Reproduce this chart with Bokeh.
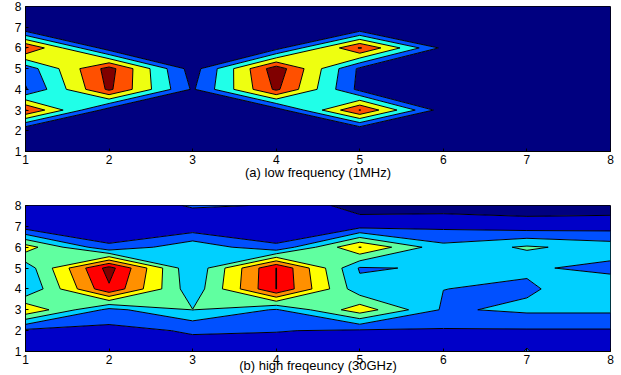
import numpy as np
from bokeh.plotting import figure
from bokeh.models import Range1d, FixedTicker
from bokeh.layouts import column
from bokeh.embed import file_html
from bokeh.resources import INLINE

x_vals = [1, 2, 3, 4, 5, 6, 7, 8]
y_vals = [1, 2, 3, 4, 5, 6, 7, 8]
tick_labels = ["1", "2", "3", "4", "5", "6", "7", "8"]

# panel (a): rows are y = 1..8, columns x = 1..8
za_y1 = [0, 0, 0, 0, 0, 0, 0, 0]
za_y2 = [0, 0, 0, 0, 0, 0, 0, 0]
za_y3 = [5.05, 0.5, 0, 0.5, 5.05, 0.45, 0, 0]
za_y4 = [0.9, 5.2, 0.87, 5.2, 0.7, 0, 0, 0]
za_y5 = [1.4, 5.4, 0.5, 5.6, 0.8, 0, 0, 0]
za_y6 = [5.05, 0.4, 0, 0.6, 5.1, 0.74, 0, 0]
za_y7 = [0, 0, 0, 0, 0, 0, 0, 0]
za_y8 = [0, 0, 0, 0, 0, 0, 0, 0]
levels_a = [-1, 1, 2, 3, 4, 5, 7]
colors_a = ["#000080", "#0055FF", "#20FFE8", "#EEFF10", "#FF5000", "#800000"]

# panel (b)
zb_y1 = [1.3, 1.3, 1.57, 1.4, 1.5, 1.5, 2.02, 1.5]
zb_y2 = [1.75, 1.71, 2.1, 2.05, 1.85, 1.9, 1.9, 1.9]
zb_y3 = [5.9, 2.7, 4.02, 2.9, 5.6, 2.86, 3.2, 3.2]
zb_y4 = [2.97, 7.85, 3.33, 8.02, 3.3, 3.01, 2.85, 3.73]
zb_y5 = [3.4, 8.4, 3.1, 8.02, 2.9, 3.12, 3.15, 2.7]
zb_y6 = [5.5, 2.16, 3.75, 2.16, 6.05, 3.3, 4.15, 3.56]
zb_y7 = [1.43, 1.3, 1.25, 1.3, 1.66, 1.77, 1.46, 1.56]
zb_y8 = [1.3, 1.3, 2.1, 1.95, 0.5, 0.5, 0.5, 0.5]
levels_b = [-1, 1, 2, 3, 4, 5, 6, 7, 8, 10]
colors_b = ["#000080", "#0000C8", "#0050FF", "#00D0FF", "#60FFA0",
            "#FFFF00", "#FF9000", "#FF0000", "#800000"]

caption_a = "(a) low frequency (1MHz)"
caption_b = "(b) high freqeuncy (30GHz)"

FONT = "Liberation Sans"


def make(zrows, levels, colors, caption, height, top, standoff):
    p = figure(width=618, height=height, x_range=Range1d(1, 8), y_range=Range1d(1, 8),
               output_backend="svg", toolbar_location=None,
               min_border_left=25, min_border_right=8,
               min_border_top=top, min_border_bottom=0)
    z = np.array(zrows, dtype=float)
    p.contour(x=np.array(x_vals, dtype=float), y=np.array(y_vals, dtype=float), z=z,
              levels=levels, fill_color=colors, line_color="black", line_width=1)
    p.grid.visible = False
    p.xaxis.ticker = FixedTicker(ticks=x_vals)
    p.yaxis.ticker = FixedTicker(ticks=y_vals)
    p.xaxis.major_label_overrides = {v: t for v, t in zip(x_vals, tick_labels)}
    p.yaxis.major_label_overrides = {v: t for v, t in zip(y_vals, tick_labels)}
    p.axis.major_tick_in = 3
    p.axis.major_tick_out = 0
    p.axis.minor_tick_line_color = None
    p.axis.axis_line_color = "black"
    p.axis.major_label_text_font = FONT
    p.axis.major_label_text_font_size = "12px"
    p.axis.major_label_text_color = "black"
    p.xaxis.major_label_standoff = 3
    p.yaxis.major_label_standoff = 4
    p.outline_line_color = "black"
    p.outline_line_width = 1
    p.xaxis.axis_label = caption
    p.xaxis.axis_label_text_font = FONT
    p.xaxis.axis_label_text_font_style = "normal"
    p.xaxis.axis_label_text_font_size = "13px"
    p.xaxis.axis_label_text_color = "black"
    p.xaxis.axis_label_standoff = standoff
    return p


pa = make([za_y1, za_y2, za_y3, za_y4, za_y5, za_y6, za_y7, za_y8],
          levels_a, colors_a, caption_a, 182, 6, -2)
pb = make([zb_y1, zb_y2, zb_y3, zb_y4, zb_y5, zb_y6, zb_y7, zb_y8],
          levels_b, colors_b, caption_b, 193, 23, -9)

layout = column(pa, pb, spacing=0)
open("out.html", "w").write(file_html(layout, INLINE))
